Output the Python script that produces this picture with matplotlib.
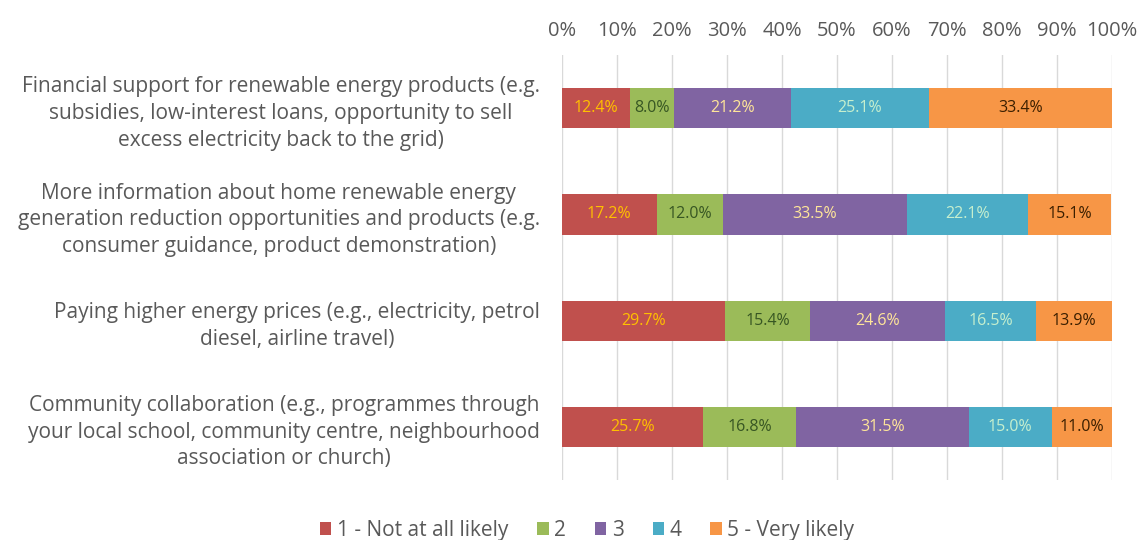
import numpy as np
import matplotlib.pyplot as plt
from matplotlib.ticker import PercentFormatter

plt.rcParams['font.family'] = ['Open Sans', 'DejaVu Sans']

categories = [
    "Financial support for renewable energy products (e.g.\nsubsidies, low-interest loans, opportunity to sell\nexcess electricity back to the grid)",
    "More information about home renewable energy\ngeneration reduction opportunities and products (e.g.\nconsumer guidance, product demonstration)",
    "Paying higher energy prices (e.g., electricity, petrol\ndiesel, airline travel)",
    "Community collaboration (e.g., programmes through\nyour local school, community centre, neighbourhood\nassociation or church)",
]
series_names = ["1 - Not at all likely", "2", "3", "4", "5 - Very likely"]
values = np.array([
    [12.4, 8.0, 21.2, 25.1, 33.4],
    [17.2, 12.0, 33.5, 22.1, 15.1],
    [29.7, 15.4, 24.6, 16.5, 13.9],
    [25.7, 16.8, 31.5, 15.0, 11.0],
])
colors = ["#C0504D", "#9BBB59", "#8064A2", "#4BACC6", "#F79646"]
label_colors = ["#FFC000", "#375623", "#FFE699", "#C6EFCE", "#3B1F00"]

fig = plt.figure(figsize=(11.43, 5.4), dpi=100)
ax = fig.add_axes([0.4917, 0.111, 0.4812, 0.787])

y = np.arange(len(categories))
left = np.zeros(len(categories))
for i, name in enumerate(series_names):
    bars = ax.barh(y, values[:, i], left=left, height=0.38, color=colors[i],
                   label=name, zorder=3)
    for j, b in enumerate(bars):
        ax.text(left[j] + values[j, i] / 2, y[j], f"{values[j, i]:.1f}%",
                ha="center", va="center", fontsize=11.5, color=label_colors[i],
                zorder=4)
    left += values[:, i]

ax.set_xlim(0, 100)
ax.set_ylim(3.5, -0.5)
ax.set_xticks(np.arange(0, 101, 10))
ax.xaxis.set_major_formatter(PercentFormatter(decimals=0))
ax.xaxis.tick_top()
ax.set_yticks(y)
ax.set_yticklabels(categories, multialignment="center", fontsize=15,
                   color="#595959", linespacing=1.35)
ax.tick_params(axis="x", labelsize=14.5, colors="#595959", length=0, pad=10)
ax.tick_params(axis="y", length=0, pad=16)
ax.grid(axis="x", color="#D9D9D9", linewidth=1, zorder=0)
for s in ax.spines.values():
    s.set_visible(False)

fig.legend(loc="lower center", bbox_to_anchor=(0.5136, -0.036), ncol=5,
           frameon=False, fontsize=15, handlelength=0.55, handleheight=0.55,
           handletextpad=0.25, columnspacing=1.4, labelcolor="#595959")

fig.savefig("out.png", dpi=100)
